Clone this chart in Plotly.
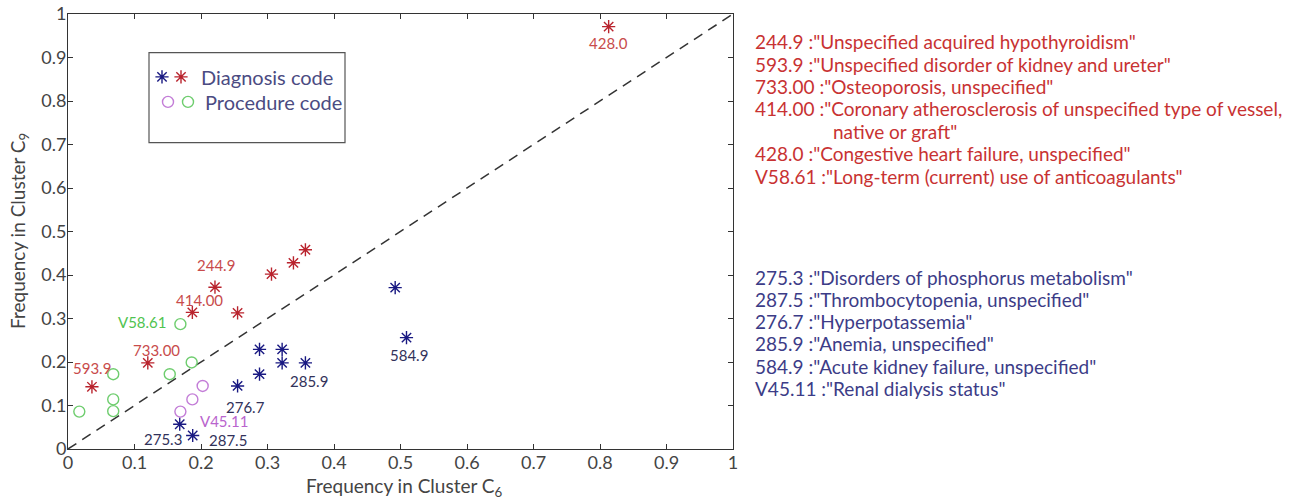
import plotly.graph_objects as go

# ---------------- data ----------------
# Diagnosis codes more frequent in C9 (red stars)
red_x = [0.036, 0.120, 0.187, 0.221, 0.255, 0.306, 0.339, 0.357, 0.813]
red_y = [0.143, 0.198, 0.314, 0.372, 0.313, 0.402, 0.428, 0.458, 0.971]
red_lab = ["593.9", "733.00", "414.00", "244.9", "", "", "", "", "428.0"]

# Diagnosis codes more frequent in C6 (blue stars)
blue_x = [0.168, 0.1875, 0.255, 0.288, 0.288, 0.322, 0.322, 0.357, 0.492, 0.509]
blue_y = [0.057, 0.031, 0.145, 0.172, 0.229, 0.229, 0.198, 0.198, 0.371, 0.256]
blue_lab = ["275.3", "287.5", "276.7", "", "", "", "", "285.9", "", "584.9"]

# Procedure codes (green: more frequent in C9, purple: more frequent in C6)
green_x = [0.017, 0.068, 0.068, 0.068, 0.153, 0.169, 0.186]
green_y = [0.086, 0.172, 0.114, 0.087, 0.172, 0.287, 0.199]
green_lab = ["", "", "", "", "", "V58.61", ""]

purple_x = [0.169, 0.187, 0.2025]
purple_y = [0.086, 0.114, 0.145]
purple_lab = ["V45.11", "", ""]

diag = [0, 1]

x_ticks = [0, 0.1, 0.2, 0.3, 0.4, 0.5, 0.6, 0.7, 0.8, 0.9, 1]
y_ticks = [0, 0.1, 0.2, 0.3, 0.4, 0.5, 0.6, 0.7, 0.8, 0.9, 1]

legend_labels = ["Diagnosis code", "Procedure code"]

red_codes = ["244.9", "593.9", "733.00", "414.00", "", "428.0", "V58.61"]
red_desc = ['"Unspecified acquired hypothyroidism"',
            '"Unspecified disorder of kidney and ureter"',
            '"Osteoporosis, unspecified"',
            '"Coronary atherosclerosis of unspecified type of vessel,',
            'native or graft"',
            '"Congestive heart failure, unspecified"',
            '"Long-term (current) use of anticoagulants"']

blue_codes = ["275.3", "287.5", "276.7", "285.9", "584.9", "V45.11"]
blue_desc = ['"Disorders of phosphorus metabolism"',
             '"Thrombocytopenia, unspecified"',
             '"Hyperpotassemia"',
             '"Anemia, unspecified"',
             '"Acute kidney failure, unspecified"',
             '"Renal dialysis status"']

# ---------------- style ----------------
FONT = "Lato"
RED = "rgb(185,35,45)"
RED_TXT = "rgb(200,75,75)"
BLUE = "rgb(25,25,130)"
BLUE_TXT = "rgb(50,50,90)"
GREEN = "rgb(110,205,110)"
GREEN_TXT = "rgb(80,195,80)"
PURPLE = "rgb(195,125,215)"
PURPLE_TXT = "rgb(185,100,205)"
RTXT_RED = "rgb(200,50,50)"
RTXT_BLUE = "rgb(60,60,135)"
LEG_TXT = "rgb(75,75,130)"
AX_TXT = "#444"

W, H = 1297, 502
L, R, T, B = 68, 733, 14, 449  # plot area in pixels


def px(xp):
    return (xp - L) / (R - L)


def py(yp):
    return (B - yp) / (B - T)


fig = go.Figure()

fig.add_trace(go.Scatter(x=diag, y=diag, mode="lines",
                         line=dict(color="#333", width=1.5, dash="10px,7px"),
                         showlegend=False, hoverinfo="skip"))

star = dict(symbol="asterisk-open", size=11)
circ = dict(symbol="circle-open", size=11)

fig.add_trace(go.Scatter(x=blue_x, y=blue_y, mode="markers", name=" ",
                         marker=dict(**star, color=BLUE, line=dict(color=BLUE, width=1.4)),
                         legend="legend"))
fig.add_trace(go.Scatter(x=red_x, y=red_y, mode="markers", name=" ",
                         marker=dict(**star, color=RED, line=dict(color=RED, width=1.4)),
                         legend="legend2"))
fig.add_trace(go.Scatter(x=purple_x, y=purple_y, mode="markers", name=" ",
                         marker=dict(**circ, color=PURPLE, line=dict(color=PURPLE, width=1.4)),
                         legend="legend3"))
fig.add_trace(go.Scatter(x=green_x, y=green_y, mode="markers", name=" ",
                         marker=dict(**circ, color=GREEN, line=dict(color=GREEN, width=1.4)),
                         legend="legend4"))

# point labels (offsets in pixels are style)
lab_font = dict(family=FONT, size=15)
red_off = {"593.9": (0, 19), "733.00": (9, 13), "414.00": (7, 12), "244.9": (1, 22), "428.0": (0, -16)}
blue_off = {"275.3": (-17, -15), "287.5": (35, -4), "276.7": (8, -21), "285.9": (4, -18), "584.9": (3, -17)}
green_off = {"V58.61": (-38, 2)}
purple_off = {"V45.11": (44, -9)}

for xs, ys, labs, offs, col in [(red_x, red_y, red_lab, red_off, RED_TXT),
                                (blue_x, blue_y, blue_lab, blue_off, BLUE_TXT),
                                (green_x, green_y, green_lab, green_off, GREEN_TXT),
                                (purple_x, purple_y, purple_lab, purple_off, PURPLE_TXT)]:
    for xv, yv, lab in zip(xs, ys, labs):
        if not lab:
            continue
        dx, dy = offs[lab]
        fig.add_annotation(x=xv, y=yv, text=lab, showarrow=False, xshift=dx, yshift=dy,
                           font=dict(**lab_font, color=col))

# right side description text
TX = px(753)
RFS = 19
for i, (c, d) in enumerate(zip(red_codes, red_desc)):
    y = py(41.7 + 22.4 * i)
    if c:
        txt = f"{c} :{d}"
        x = TX
    else:
        txt = d
        x = px(831)
    fig.add_annotation(xref="paper", yref="paper", x=x, y=y, text=txt, showarrow=False,
                       xanchor="left", yanchor="middle", font=dict(family=FONT, size=RFS, color=RTXT_RED))
for i, (c, d) in enumerate(zip(blue_codes, blue_desc)):
    y = py(277 + 22.3 * i)
    fig.add_annotation(xref="paper", yref="paper", x=TX, y=y, text=f"{c} :{d}", showarrow=False,
                       xanchor="left", yanchor="middle", font=dict(family=FONT, size=RFS, color=RTXT_BLUE))

# legend box, keys and labels
fig.add_shape(type="rect", xref="paper", yref="paper", x0=px(149), x1=px(345), y0=py(142.7), y1=py(52.7),
              line=dict(color="#555", width=1.2), fillcolor="rgba(0,0,0,0)")
for lab, yy, xx in zip(legend_labels, [77, 102], [199, 203]):
    fig.add_annotation(xref="paper", yref="paper", x=px(xx), y=py(yy), text=lab, showarrow=False,
                       xanchor="left", yanchor="middle", font=dict(family=FONT, size=20, color=LEG_TXT))

leg_common = dict(orientation="h", bgcolor="rgba(0,0,0,0)", borderwidth=0, xanchor="left", yanchor="middle",
                  font=dict(family=FONT, size=16, color=LEG_TXT), itemwidth=30)
fig.update_layout(
    legend=dict(**leg_common, x=px(142), y=py(77)),
    legend2=dict(**leg_common, x=px(161), y=py(77)),
    legend3=dict(**leg_common, x=px(148), y=py(102)),
    legend4=dict(**leg_common, x=px(168), y=py(102)),
)

axis_common = dict(range=[0, 1], showline=True, linecolor="#333", linewidth=1, mirror="ticks",
                   ticks="inside", ticklen=5, tickcolor="#333", showgrid=False, zeroline=False,
                   automargin=False, tickfont=dict(family=FONT, size=18, color=AX_TXT))
fig.update_xaxes(**axis_common, tickvals=x_ticks, ticklabelstandoff=-3)
fig.update_yaxes(**axis_common, tickvals=y_ticks, ticklabelstandoff=-3)

# axis titles
fig.add_annotation(xref="paper", yref="paper", x=px(404), y=py(487), text="Frequency in Cluster C<sub>6</sub>",
                   showarrow=False, xanchor="center", yanchor="middle",
                   font=dict(family=FONT, size=19, color=AX_TXT))
fig.add_annotation(xref="paper", yref="paper", x=px(19), y=py(231), text="Frequency in Cluster C<sub>9</sub>",
                   showarrow=False, xanchor="center", yanchor="middle", textangle=-90,
                   font=dict(family=FONT, size=19, color=AX_TXT))

fig.update_layout(width=W, height=H, autosize=False, plot_bgcolor="white", paper_bgcolor="white",
                  margin=dict(l=L, r=W - R, t=T, b=H - B), font=dict(family=FONT))

fig.write_html("out.html", post_script="document.body.style.margin='0';",
               config={"displayModeBar": False})
